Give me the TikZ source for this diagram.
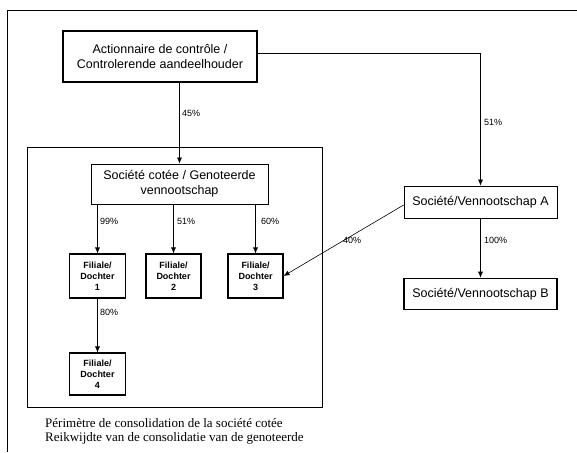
\documentclass[tikz,border=0pt]{standalone}
\usepackage{fontspec}
\setmainfont{Liberation Serif}
\setsansfont{Liberation Sans}
\usepackage{tikz}
\usetikzlibrary{calc}
\usetikzlibrary{arrows.meta}
\tikzset{>={Latex[length=6pt,width=5pt]}}
\tikzset{
  entity/.style={draw,line width=0.8pt,inner sep=0pt,align=center,
    font=\sffamily\fontsize{12.5}{15}\selectfont},
  filiale/.style={draw,line width=1.1pt,inner sep=0pt,minimum width=56pt,
    minimum height=44pt,align=center,
    font=\sffamily\bfseries\fontsize{9}{11}\selectfont},
  pct/.style={anchor=west,inner sep=0pt,font=\sffamily\fontsize{9}{10}\selectfont},
  link/.style={->,line width=0.6pt}
}

\begin{document}
\begin{tikzpicture}[x=1pt,y=-1pt]
    \useasboundingbox (0,0) rectangle (577,452);

    % page frame
    \draw [line width=0.8pt] (7,452) -- (7,10) -- (577,10);

    \coordinate (act) at (160,56.5);
    \coordinate (cot) at (179.5,184);
    \coordinate (d1) at (97.5,276);
    \coordinate (d2) at (173.5,276);
    \coordinate (d3) at (255.5,276);
    \coordinate (d4) at (97.5,374);
    \coordinate (va) at (480.5,202);
    \coordinate (vb) at (480.5,294);

    % consolidation perimeter
    \draw [line width=0.9pt] (27.5,147) rectangle (322,407);

    \node [entity,line width=1.1pt,minimum width=194pt,minimum height=51pt]
    (actio) at (act) {Actionnaire de contrôle /\\Controlerende aandeelhouder};

    \node [entity,minimum width=177pt,minimum height=40pt]
    (cotee) at (cot) {Société cotée / Genoteerde\\vennootschap};

    \node [filiale] (f1) at (d1) {Filiale/\\Dochter\\1};
    \node [filiale,minimum width=55pt] (f2) at (d2) {Filiale/\\Dochter\\2};
    \node [filiale,minimum width=55pt] (f3) at (d3) {Filiale/\\Dochter\\3};
    \node [filiale,minimum height=42pt] (f4) at (d4) {Filiale/\\Dochter\\4};

    \node [entity,minimum width=153pt,minimum height=32pt]
    (socA) at (va) {Société/Vennootschap A};

    \node [entity,line width=1.6pt,minimum width=153pt,minimum height=31pt]
    (socB) at (vb) {Société/Vennootschap B};

    \draw [link] (actio.south -| cotee) -- (cotee);
    \draw [link] ([yshift=3.5pt]actio.east) -| (socA);

    \draw [link] (cotee.south -| f1) -- (f1);
    \draw [link] (cotee.south -| f2) -- (f2);
    \draw [link] (cotee.south -| f3) -- (f3);
    \draw [link] (f1) -- (f4);

    \draw [link] (socA) -- (socB);
    \draw [link] ([yshift=-3pt]socA.west) -- (f3.east);

    \node [pct] (p45) at (182,113) {45\%};
    \node [pct] (p51) at (484,122) {51\%};
    \node [pct] (p99) at (100,221) {99\%};
    \node [pct] (p51b) at (177,221) {51\%};
    \node [pct] (p60) at (261,221) {60\%};
    \node [pct] (p80) at (100,312) {80\%};
    \node [pct] (p40) at (343,240) {40\%};
    \node [pct] (p100) at (484,240) {100\%};

    \node [anchor=west,inner sep=0pt,align=left,
    font=\rmfamily\fontsize{13}{13.5}\selectfont]
    (perim) at (45,431.5) {Périmètre de consolidation de la société cotée\\
    Reikwijdte van de consolidatie van de genoteerde};

  \end{tikzpicture}
\end{document}
